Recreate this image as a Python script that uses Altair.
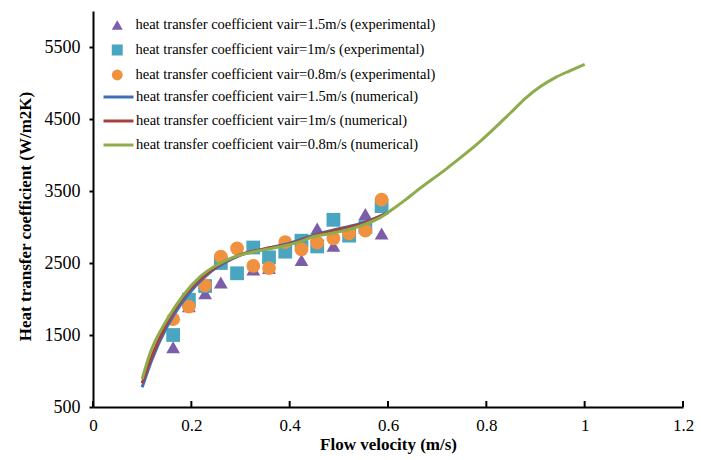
import altair as alt
import pandas as pd

# ---------------- data ----------------
exp_x = [0.163, 0.195, 0.228, 0.260, 0.293, 0.326, 0.358, 0.391, 0.424, 0.456, 0.489, 0.521, 0.554, 0.587]
exp_15 = [1330, 1900, 2080, 2230, 2370, 2410, 2430, 2650, 2540, 2980, 2740, 2890, 3180, 2910]
exp_10 = [1500, 1990, 2180, 2500, 2357, 2715, 2579, 2660, 2810, 2730, 3100, 2880, 3000, 3290]
exp_08 = [1720, 1893, 2190, 2590, 2704, 2460, 2430, 2790, 2690, 2782, 2843, 2912, 2950, 3380]

num_x_short = [0.10, 0.12, 0.15, 0.18, 0.21, 0.24, 0.27, 0.30, 0.35, 0.40, 0.45, 0.50, 0.55, 0.60]
num_15 = [773, 1160, 1610, 1940, 2190, 2380, 2510, 2610, 2700, 2775, 2890, 2975, 3060, 3200]
num_10 = [830, 1210, 1660, 1990, 2225, 2400, 2525, 2615, 2695, 2765, 2880, 2965, 3050, 3200]

num_x_long = [0.10, 0.116, 0.15, 0.184, 0.218, 0.252, 0.285, 0.319, 0.353, 0.387, 0.421, 0.448,
              0.48, 0.516, 0.55, 0.584, 0.61, 0.638, 0.652, 0.72, 0.787, 0.85, 0.88, 0.91,
              0.94, 0.97, 1.0]
num_08 = [889, 1245, 1708, 2056, 2310, 2472, 2579, 2643, 2690, 2736, 2796, 2865,
          2905, 2958, 3030, 3130, 3250, 3390, 3468, 3815, 4185, 4590, 4790, 4950,
          5075, 5170, 5260]

exp_labels = [
    "heat transfer coefficient vair=1.5m/s (experimental)",
    "heat transfer coefficient vair=1m/s (experimental)",
    "heat transfer coefficient vair=0.8m/s (experimental)",
]
num_labels = [
    "heat transfer coefficient vair=1.5m/s (numerical)",
    "heat transfer coefficient vair=1m/s (numerical)",
    "heat transfer coefficient vair=0.8m/s (numerical)",
]
x_ticks = [0, 0.2, 0.4, 0.6, 0.8, 1.0, 1.2]
y_ticks = [500, 1500, 2500, 3500, 4500, 5500]

exp_colors = ["#7b5ea7", "#4aa6c0", "#f0913f"]
exp_shapes = ["triangle-up", "square", "circle"]
num_colors = ["#3f6fb5", "#a8403d", "#8fac4c"]

# ---------------- tables ----------------
rows = []
for lab, ys in zip(exp_labels, [exp_15, exp_10, exp_08]):
    for xv, yv in zip(exp_x, ys):
        rows.append({"series": lab, "x": xv, "y": yv})
exp_df = pd.DataFrame(rows)

rows = []
for i, (lab, xs, ys) in enumerate(zip(num_labels, [num_x_short, num_x_short, num_x_long], [num_15, num_10, num_08])):
    for xv, yv in zip(xs, ys):
        rows.append({"series": lab, "x": xv, "y": yv, "ord": i})
num_df = pd.DataFrame(rows)

tick_df = pd.DataFrame({"x": x_ticks})

FONT = "Liberation Serif"
W, H = 590, 396

xscale = alt.Scale(domain=[0, 1.2], nice=False, zero=False)
yscale = alt.Scale(domain=[500, 6000], nice=False, zero=False)

xaxis = alt.Axis(values=x_ticks, format="~g", title="Flow velocity (m/s)", ticks=False,
                 labelPadding=10, labelFlush=False, grid=False, domainColor="black", domainWidth=2,
                 labelFont=FONT, labelFontSize=17, labelColor="black",
                 titleFont=FONT, titleFontSize=17, titleFontWeight="bold", titleColor="black",
                 titlePadding=3)
yaxis = alt.Axis(values=y_ticks, format="d", title="Heat transfer coefficient (W/m2K)", tickSize=4,
                 tickColor="black", tickWidth=2, labelPadding=9, labelFlush=False, grid=False,
                 domainColor="black", domainWidth=2,
                 labelFont=FONT, labelFontSize=18, labelColor="black",
                 titleFont=FONT, titleFontSize=17, titleFontWeight="bold", titleColor="black",
                 titlePadding=10, titleLimit=1000, titleY=205)

pt_legend = alt.Legend(title=None, orient="none", legendX=17, legendY=7,
                       labelFont=FONT, labelFontSize=14.5, labelColor="black",
                       symbolSize=120, labelOffset=11, rowPadding=10, clipHeight=14,
                       padding=0, labelLimit=500)

points = alt.Chart(exp_df).mark_point(filled=True, size=190, opacity=1).encode(
    x=alt.X("x:Q", scale=xscale, axis=xaxis),
    y=alt.Y("y:Q", scale=yscale, axis=yaxis),
    color=alt.Color("series:N", scale=alt.Scale(domain=exp_labels, range=exp_colors), legend=pt_legend),
    shape=alt.Shape("series:N", scale=alt.Scale(domain=exp_labels, range=exp_shapes), legend=pt_legend),
)

lines = alt.Chart(num_df).mark_line(strokeWidth=3, interpolate="monotone").encode(
    x=alt.X("x:Q", scale=xscale),
    y=alt.Y("y:Q", scale=yscale),
    color=alt.Color("series:N", scale=alt.Scale(domain=num_labels, range=num_colors),
                    legend=alt.Legend(title=None, orient="none", legendX=9, legendY=79,
                                      labelFont=FONT, labelFontSize=14.5, labelColor="black",
                                      symbolType="stroke", symbolSize=900, symbolStrokeWidth=3,
                                      labelOffset=1, rowPadding=9, clipHeight=14,
                                      padding=0, labelLimit=500)),
    order=alt.Order("ord:Q"),
    detail="series:N",
)

xticks = alt.Chart(tick_df).mark_rule(color="black", strokeWidth=2).encode(
    x=alt.X("x:Q", scale=xscale),
    y=alt.value(H - 6),
    y2=alt.value(H),
)

chart = alt.layer(points, lines, xticks).resolve_scale(color="independent", shape="independent").properties(
    width=W, height=H,
    autosize=alt.AutoSizeParams(type="none"),
    padding={"left": 93, "top": 11, "right": 18, "bottom": 53},
    background="white",
).configure_view(stroke=None)

chart.save("out.html", embed_options={"renderer": "svg", "actions": False})
